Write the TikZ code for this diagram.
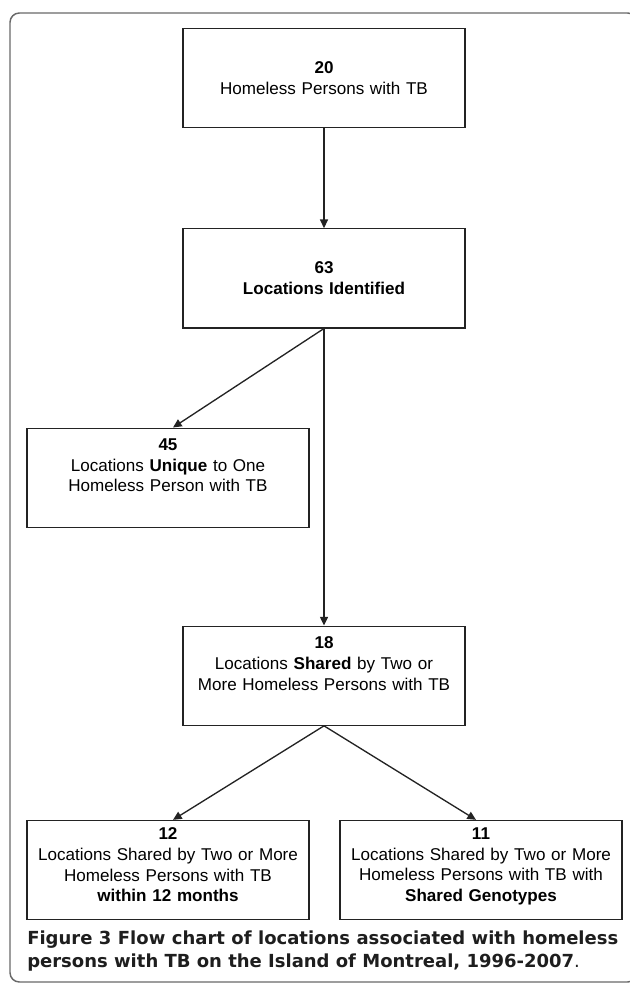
\documentclass[tikz,border=0pt]{standalone}
\usepackage{fontspec}
\setmainfont{Liberation Sans}
\newfontfamily\capfont{DejaVu Sans}
\usetikzlibrary{arrows.meta,positioning}
\definecolor{LineGray}{RGB}{35,35,35}
\definecolor{FrameGray}{RGB}{105,105,105}
\definecolor{CapText}{RGB}{30,30,30}
\tikzset{
  box/.style={draw=LineGray,line width=1pt,minimum width=211.5pt,
    minimum height=74.25pt,text width=205pt,align=center,inner xsep=0pt,
    inner ysep=8pt,font=\fontsize{12.8pt}{15.4pt}\selectfont},
  toptext/.style={text depth=49pt},
  fourlines/.style={inner ysep=5pt,text depth=54pt},
  arrow/.style={-{Triangle[length=6.5pt,width=6pt]},line width=1pt,LineGray},
  caption/.style={text width=443.25pt,align=justify,inner sep=0pt,text=CapText,
    font=\capfont\bfseries\fontsize{13.5pt}{17.25pt}\selectfont}
}

\begin{document}
\begin{tikzpicture}[x=0.75pt,y=-0.75pt,node distance=75pt]
  \useasboundingbox (0,0) rectangle (630,984);
  % outer frame
  \draw[FrameGray,line width=1.1pt,rounded corners=7pt] (10,13) rectangle (637,982);

  \node[box] (persons) at (324,78) {\textbf{20}\\Homeless Persons with TB};
  \node[box,below=of persons] (ident) {\textbf{63}\\\textbf{Locations Identified}};
  \node[box,toptext,below=74.25pt of ident,xshift=-117pt] (unique)
    {\textbf{45}\\Locations \textbf{Unique} to One\\Homeless Person with TB};
  \node[box,toptext,below=222.75pt of ident] (shared)
    {\textbf{18}\\Locations \textbf{Shared} by Two or\\More Homeless Persons with TB};
  \node[box,fourlines,below=70.5pt of shared,xshift=-117pt] (months)
    {\textbf{12}\\Locations Shared by Two or More\\Homeless Persons with TB\\\textbf{within 12 months}};
  \node[box,fourlines,below=70.5pt of shared,xshift=117.75pt] (genotype)
    {\textbf{11}\\Locations Shared by Two or More\\Homeless Persons with TB with\\\textbf{Shared Genotypes}};

  % connectors
  \draw[arrow] (persons.south) -- (ident.north);
  \draw[arrow] (ident.south) -- ([xshift=3.75pt]unique.north);
  \draw[arrow] (ident.south) -- (shared.north);
  \draw[arrow] (shared.south) -- ([xshift=3.75pt]months.north);
  \draw[arrow] (shared.south) -- ([xshift=-3.75pt]genotype.north);

  \node[caption,anchor=north west] (cap) at (27,931)
    {\hyphenpenalty=10000 Figure 3 Flow chart of locations associated with homeless\linebreak
     persons with TB on the Island of Montreal, 1996-2007{\mdseries.}};
\end{tikzpicture}
\end{document}
